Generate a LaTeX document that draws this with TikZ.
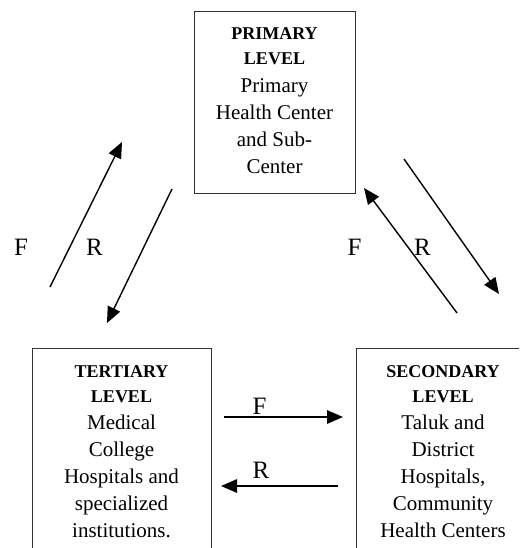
\documentclass[tikz,border=0pt]{standalone}
\usepackage{fontspec}
\setmainfont{Liberation Serif}
\usetikzlibrary{arrows.meta}
\begin{document}
\begin{tikzpicture}[x=1pt,y=-1pt,
  levelbox/.style={draw=black!80, line width=1.2pt, rectangle, inner sep=0pt, anchor=north west},
  leveltext/.style={align=center, inner sep=0pt, anchor=base, font=\fontsize{21}{27}\selectfont},
  flow/.style={line width=1.4pt, -{Triangle[length=16pt,width=13.5pt]}},
  lab/.style={font=\fontsize{25}{28}\selectfont, inner sep=0pt, anchor=center}]
\useasboundingbox (0,0) rectangle (519,548);
\clip (0,0) rectangle (519,548);
% boxes
\node[levelbox, minimum width=161pt, minimum height=182pt] (prim) at (194,11) {};
\node[levelbox, minimum width=179pt, minimum height=230pt] (tert) at (32,348) {};
\node[levelbox, minimum width=179pt, minimum height=230pt] (seco) at (356,348) {};
% texts (base anchor = baseline of last line)
\node[leveltext] (primtxt) at (274.5,173) {{\fontsize{18}{25}\selectfont\bfseries PRIMARY}\\[-2pt]{\fontsize{18}{25}\selectfont\bfseries LEVEL}\\Primary\\Health Center\\and Sub-\\Center};
\node[leveltext] (terttxt) at (121.5,537) {{\fontsize{18}{25}\selectfont\bfseries TERTIARY}\\[-2pt]{\fontsize{18}{25}\selectfont\bfseries LEVEL}\\Medical\\College\\Hospitals and\\specialized\\institutions.};
\node[leveltext] (secotxt) at (443,537) {{\fontsize{18}{25}\selectfont\bfseries SECONDARY}\\[-2pt]{\fontsize{18}{25}\selectfont\bfseries LEVEL}\\Taluk and\\District\\Hospitals,\\Community\\Health Centers};
% arrow end points
\coordinate (a1s) at (50,287);  \coordinate (a1e) at (122,142);
\coordinate (a2s) at (172,189); \coordinate (a2e) at (107,323);
\coordinate (a3s) at (404,159); \coordinate (a3e) at (499,294);
\coordinate (a4s) at (457,313); \coordinate (a4e) at (364,188);
\coordinate (a5s) at (224,417); \coordinate (a5e) at (343,417);
\coordinate (a6s) at (338,486); \coordinate (a6e) at (221,486);
\draw[flow] (a1s) -- (a1e);
\draw[flow] (a2s) -- (a2e);
\draw[flow] (a3s) -- (a3e);
\draw[flow] (a4s) -- (a4e);
\draw[flow] (a5s) -- (a5e);
\draw[flow] (a6s) -- (a6e);
% labels
\node[lab] (fl) at (21,247) {F};
\node[lab] (rl) at (94.5,247) {R};
\node[lab] (fr) at (354.5,247) {F};
\node[lab] (rr) at (422.5,247) {R};
\node[lab] (fb) at (259.5,406.5) {F};
\node[lab] (rb) at (261,470) {R};
\end{tikzpicture}
\end{document}
